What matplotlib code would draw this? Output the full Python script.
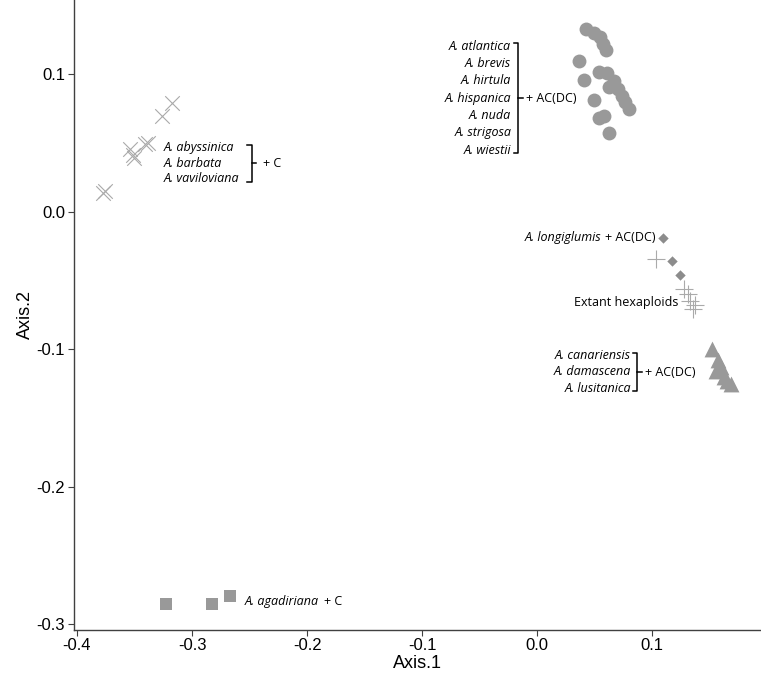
"""PCoA de Avena: grupos de especies sobre Axis.1 / Axis.2."""

import matplotlib

matplotlib.use("Agg")
import matplotlib.pyplot as plt

# --- datos ---
cruces_x = [-0.317, -0.326, -0.338, -0.341, -0.354, -0.351, -0.350, -0.376, -0.377]
cruces_y = [0.079, 0.070, 0.050, 0.049, 0.046, 0.041, 0.039, 0.015, 0.014]

circulos_x = [0.042, 0.049, 0.055, 0.057, 0.060, 0.036, 0.054, 0.061, 0.067,
              0.062, 0.070, 0.074, 0.076, 0.080, 0.041, 0.049, 0.054, 0.058, 0.062]
circulos_y = [0.133, 0.130, 0.127, 0.122, 0.118, 0.110, 0.102, 0.101, 0.095,
              0.091, 0.089, 0.084, 0.080, 0.075, 0.096, 0.081, 0.068, 0.070, 0.057]

rombos_x = [0.109, 0.117, 0.124]
rombos_y = [-0.019, -0.036, -0.046]

mas_x = [0.103, 0.128, 0.131, 0.133, 0.137, 0.135]
mas_y = [-0.034, -0.056, -0.060, -0.065, -0.068, -0.071]

triangulos_x = [0.152, 0.157, 0.155, 0.160, 0.162, 0.165, 0.168]
triangulos_y = [-0.100, -0.108, -0.116, -0.113, -0.120, -0.123, -0.125]

cuadrados_x = [-0.323, -0.283, -0.267]
cuadrados_y = [-0.285, -0.285, -0.279]

grupo_c = ["A. abyssinica", "A. barbata", "A. vaviloviana"]
grupo_a = ["A. atlantica", "A. brevis", "A. hirtula", "A. hispanica",
           "A. nuda", "A. strigosa", "A. wiestii"]
grupo_d = ["A. canariensis", "A. damascena", "A. lusitanica"]

GRIS = "#999999"
GRIS_CLARO = "#aaaaaa"
FUENTE = "Open Sans"
TAM = 9


def llave(ax, x, arriba, abajo, d=0.004, punta=0.004):
    medio = (arriba + abajo) / 2
    ax.plot([x - d, x, x, x - d], [arriba, arriba, abajo, abajo], color="black", lw=1.1)
    ax.plot([x, x + punta], [medio, medio], color="black", lw=1.1)


def bloque(ax, nombres, x, y_top, paso, ha):
    for i, nombre in enumerate(nombres):
        ax.text(x, y_top - i * paso, nombre, ha=ha, va="center", style="italic",
                family=FUENTE, fontsize=TAM)


def ancho_datos(fig, ax, texto):
    fig.canvas.draw()
    caja = texto.get_window_extent(fig.canvas.get_renderer())
    inv = ax.transData.inverted()
    x0 = inv.transform((caja.x0, caja.y0))[0]
    x1 = inv.transform((caja.x1, caja.y0))[0]
    return x1 - x0


fig = plt.figure(figsize=(7.61, 6.9), dpi=100)
ax = fig.add_axes([0.0966, 0.087, 0.9034, 0.913])

ax.scatter(cruces_x, cruces_y, marker="x", s=110, color=GRIS_CLARO, linewidths=0.8)
ax.scatter(circulos_x, circulos_y, marker="o", s=100, color=GRIS, linewidths=0)
ax.scatter(mas_x, mas_y, marker="+", s=170, color=GRIS_CLARO, linewidths=0.8)
ax.scatter(rombos_x, rombos_y, marker="D", s=28, color="#8c8c8c", linewidths=0)
ax.scatter(triangulos_x, triangulos_y, marker="^", s=130, color=GRIS, linewidths=0)
ax.scatter(cuadrados_x, cuadrados_y, marker="s", s=75, color=GRIS, linewidths=0)

ax.set_xlim(-0.403, 0.1945)
ax.set_ylim(-0.304, 0.154)

# etiquetas de grupos
bloque(ax, grupo_c, -0.3243, 0.0465, 0.0113, "left")
llave(ax, -0.248, 0.0485, 0.022)
ax.text(-0.238, 0.0353, "+ C", va="center", family=FUENTE, fontsize=TAM)

bloque(ax, grupo_a, -0.0226, 0.1205, 0.0126, "right")
llave(ax, -0.0165, 0.1225, 0.0425)
ax.text(-0.0095, 0.0825, "+ AC(DC)", va="center", family=FUENTE, fontsize=TAM)

# A. longiglumis + AC(DC) junto al primer rombo
sufijo = ax.text(rombos_x[0] - 0.006, rombos_y[0], "+ AC(DC)", ha="right",
                 va="center", family=FUENTE, fontsize=TAM)
w = ancho_datos(fig, ax, sufijo)
ax.text(rombos_x[0] - 0.006 - w - 0.003, rombos_y[0], "A. longiglumis", ha="right",
        va="center", style="italic", family=FUENTE, fontsize=TAM)

ax.text(0.032, -0.066, "Extant hexaploids", va="center", family=FUENTE, fontsize=TAM)

bloque(ax, grupo_d, 0.0815, -0.1046, 0.0118, "right")
llave(ax, 0.087, -0.1025, -0.1305)
ax.text(0.094, -0.1165, "+ AC(DC)", va="center", family=FUENTE, fontsize=TAM)

nombre = ax.text(-0.254, -0.2836, "A. agadiriana", va="center", style="italic",
                 family=FUENTE, fontsize=TAM)
w = ancho_datos(fig, ax, nombre)
ax.text(-0.254 + w + 0.004, -0.2836, "+ C", va="center", family=FUENTE, fontsize=TAM)

ax.set_xticks([-0.4, -0.3, -0.2, -0.1, 0.0, 0.1])
ax.set_xticklabels(["-0.4", "-0.3", "-0.2", "-0.1", "0.0", "0.1"])
ax.set_yticks([-0.3, -0.2, -0.1, 0.0, 0.1])
ax.set_yticklabels(["-0.3", "-0.2", "-0.1", "0.0", "0.1"])
for lado in ["top", "right"]:
    ax.spines[lado].set_visible(False)
for lado in ["left", "bottom"]:
    ax.spines[lado].set_color("#404040")
    ax.spines[lado].set_linewidth(1.0)
ax.tick_params(direction="out", length=4, width=0.8, color="#404040", pad=2,
               labelsize=12, labelcolor="black")
for etiqueta in ax.get_xticklabels() + ax.get_yticklabels():
    etiqueta.set_family("Liberation Sans")
ax.set_xlabel("Axis.1", family="Liberation Sans", fontsize=13, labelpad=1)
ax.set_ylabel("Axis.2", family="Liberation Sans", fontsize=13, labelpad=2)

fig.savefig("out.png", dpi=100)
